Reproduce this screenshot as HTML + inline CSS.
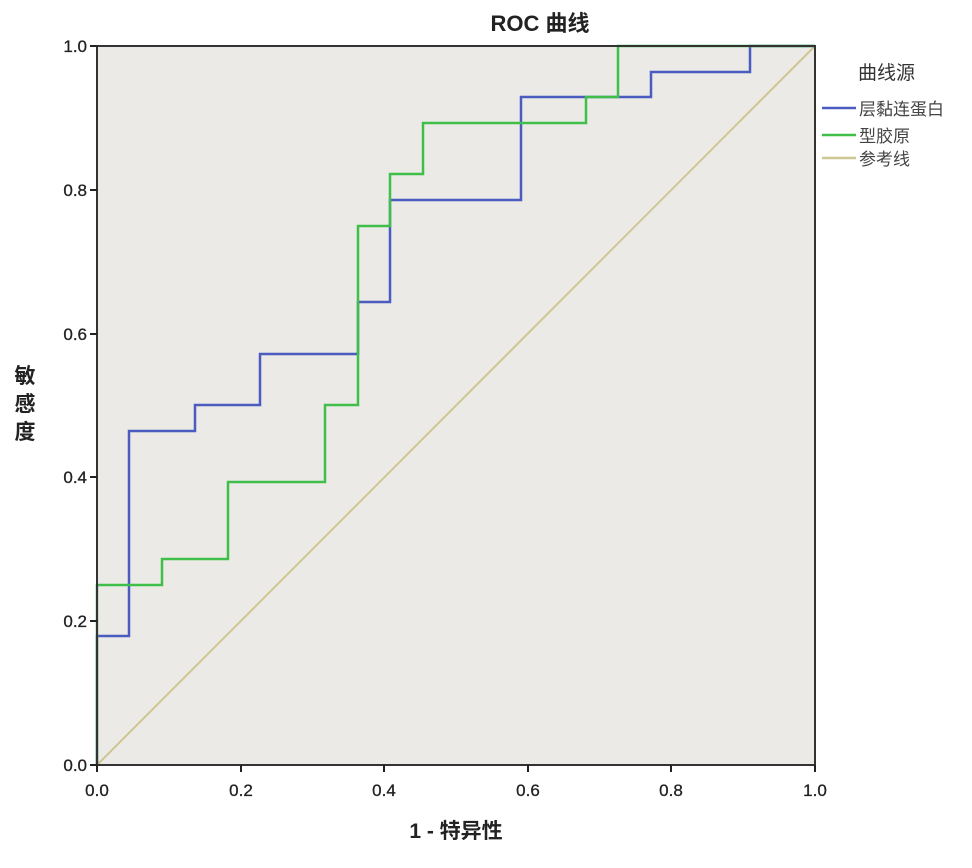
<!DOCTYPE html>
<html><head><meta charset="utf-8"><style>
html,body{margin:0;padding:0;background:#fff;}
svg text{font-family:"Liberation Sans","Noto Sans CJK SC",sans-serif;}
</style></head><body>
<svg width="972" height="863" viewBox="0 0 972 863" xmlns="http://www.w3.org/2000/svg">
<rect width="972" height="863" fill="#fff"/>
<rect x="97" y="46" width="718" height="719" fill="#ebeae7"/>
<text x="540" y="31" font-size="22" font-weight="bold" text-anchor="middle" fill="#222">ROC 曲线</text>
<line x1="97" y1="765" x2="815" y2="46" stroke="#cfc791" stroke-width="2"/>
<polyline fill="none" stroke="#4a5cc0" stroke-width="2.5" points="97,765 97,636 129,636 129,431 195,431 195,405 260,405 260,354 358,354 358,302 390,302 390,200 521,200 521,97 651,97 651,72 750,72 750,46 815,46"/>
<polyline fill="none" stroke="#3fbf4a" stroke-width="2.5" points="97,765 97,585 162,585 162,559 228,559 228,482 325,482 325,405 358,405 358,226 390,226 390,174 423,174 423,123 586,123 586,97 618,97 618,46 815,46"/>
<rect x="97" y="46" width="718" height="719" fill="none" stroke="#333" stroke-width="2"/>
<g stroke="#222" stroke-width="2">
<line x1="90" y1="765" x2="97" y2="765"/><line x1="90" y1="621" x2="97" y2="621"/><line x1="90" y1="477" x2="97" y2="477"/><line x1="90" y1="334" x2="97" y2="334"/><line x1="90" y1="190" x2="97" y2="190"/><line x1="90" y1="46" x2="97" y2="46"/>
<line x1="97" y1="765" x2="97" y2="772"/><line x1="241" y1="765" x2="241" y2="772"/><line x1="384" y1="765" x2="384" y2="772"/><line x1="528" y1="765" x2="528" y2="772"/><line x1="671" y1="765" x2="671" y2="772"/><line x1="815" y1="765" x2="815" y2="772"/>
</g>
<g font-size="17" fill="#222" text-anchor="end" stroke="#222" stroke-width="0.3">
<text x="87" y="771">0.0</text><text x="87" y="627">0.2</text><text x="87" y="483">0.4</text><text x="87" y="340">0.6</text><text x="87" y="196">0.8</text><text x="87" y="52">1.0</text>
</g>
<g font-size="17" fill="#222" text-anchor="middle" stroke="#222" stroke-width="0.3">
<text x="97" y="796">0.0</text><text x="241" y="796">0.2</text><text x="384" y="796">0.4</text><text x="528" y="796">0.6</text><text x="671" y="796">0.8</text><text x="815" y="796">1.0</text>
</g>
<text x="456" y="838" font-size="21" font-weight="bold" text-anchor="middle" fill="#222">1 - 特异性</text>
<g font-size="21" font-weight="bold" fill="#222" text-anchor="middle">
<text x="25" y="383">敏</text><text x="25" y="411">感</text><text x="25" y="439">度</text>
</g>
<text x="858" y="79" font-size="19" fill="#333">曲线源</text>
<line x1="822" y1="108" x2="856" y2="108" stroke="#4a5cc0" stroke-width="2.5"/>
<text x="859" y="115" font-size="17" fill="#444">层黏连蛋白</text>
<line x1="822" y1="135" x2="856" y2="135" stroke="#3fbf4a" stroke-width="2.5"/>
<text x="859" y="142" font-size="17" fill="#444">型胶原</text>
<line x1="822" y1="158" x2="856" y2="158" stroke="#cfc791" stroke-width="2.5"/>
<text x="859" y="165" font-size="17" fill="#444">参考线</text>
</svg>
</body></html>
